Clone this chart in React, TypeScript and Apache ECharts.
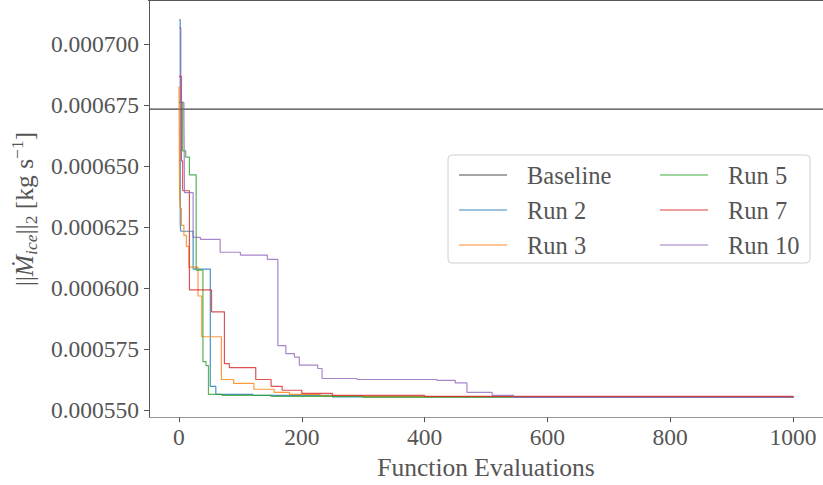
import React, { useEffect, useRef } from 'react';
import * as echarts from 'echarts';

// ---- data ----
const seriesNames = ['Run 2', 'Run 3', 'Run 5', 'Run 7', 'Run 10'];
const seriesColors = ['#1f77b4', '#ff7f0e', '#2ca02c', '#d62728', '#9467bd'];

const run2X = [0, 2, 3, 23, 51, 60, 120, 250, 1000];
const run2Y = [0.0007099, 0.0006257, 0.0006233, 0.0006078, 0.0005598, 0.0005565, 0.0005561, 0.0005555, 0.000555];

const run3X = [0, 1, 2, 4, 8, 12, 16, 31, 37, 69, 89, 122, 155, 180, 230, 300, 1000];
const run3Y = [0.0006826, 0.0006379, 0.0006327, 0.0006257, 0.0006216, 0.0006171, 0.0006086, 0.0005968, 0.0005801, 0.0005626, 0.000561, 0.0005586, 0.0005573, 0.0005565, 0.0005559, 0.0005556, 0.0005552];

const run5X = [0, 6, 11, 17, 28, 39, 44, 48, 70, 150, 300, 1000];
const run5Y = [0.0006761, 0.0006562, 0.0006537, 0.0006464, 0.0006074, 0.0005699, 0.0005683, 0.0005565, 0.0005561, 0.0005557, 0.0005554, 0.0005551];

const run7X = [0, 4, 6, 17, 53, 74, 82, 125, 150, 168, 200, 250, 400, 1000];
const run7Y = [0.0006867, 0.0006521, 0.0006399, 0.0005993, 0.0005903, 0.0005691, 0.0005675, 0.0005626, 0.0005598, 0.0005582, 0.0005569, 0.0005561, 0.0005557, 0.0005553];

const run10X = [0, 3, 8, 9, 23, 35, 67, 100, 144, 161, 174, 188, 196, 226, 233, 290, 420, 450, 469, 510, 545, 1000];
const run10Y = [0.0007066, 0.0006761, 0.0006712, 0.0006391, 0.0006208, 0.00062, 0.0006147, 0.0006135, 0.0006118, 0.0005765, 0.0005732, 0.0005718, 0.0005685, 0.0005671, 0.000563, 0.0005626, 0.0005622, 0.0005612, 0.0005573, 0.0005561, 0.0005553, 0.0005552];

const baselineValue = 0.0006733;

const xTicks = [0, 200, 400, 600, 800, 1000];
const yTicks = [0.00055, 0.000575, 0.0006, 0.000625, 0.00065, 0.000675, 0.0007];

const X_MIN = -48.8;
const X_MAX = 1048.8;
const Y_MIN = 0.0005472;
const Y_MAX = 0.0007176;

const runsX = [run2X, run3X, run5X, run7X, run10X];
const runsY = [run2Y, run3Y, run5Y, run7Y, run10Y];

const FONT = 'Liberation Serif, DejaVu Serif, serif';
const TEXT = '#555';
const FS = 23.5;
const NAME_FS = 25.5;

export default function App() {
  const ref = useRef<HTMLDivElement>(null);

  useEffect(() => {
    if (!ref.current) return;
    const chart = echarts.init(ref.current, undefined, { renderer: 'svg' });

    const runSeries = seriesNames.map((name, i) => ({
      name,
      type: 'line',
      step: 'end',
      showSymbol: false,
      silent: true,
      data: runsX[i].map((x, j) => [x, runsY[i][j]]),
      lineStyle: { color: seriesColors[i], width: 1.2, opacity: 0.8 },
      itemStyle: { color: seriesColors[i], opacity: 0.6 },
      z: 2 + i,
    }));

    const legendCommon = {
      orient: 'vertical',
      top: 162.5,
      padding: 0,
      itemWidth: 48,
      itemHeight: 1.5,
      itemGap: 10,
      icon: 'rect',
      selectedMode: false,
      textStyle: { fontFamily: FONT, fontSize: 24.5, color: TEXT, lineHeight: 23, padding: [0, 0, 0, 15] },
      z: 10,
    };

    const option: any = {
      animation: false,
      backgroundColor: '#fff',
      textStyle: { fontFamily: FONT },
      grid: { left: 148, right: 0, top: 1, bottom: 65, containLabel: false },
      xAxis: {
        type: 'value',
        min: X_MIN,
        max: X_MAX,
        name: 'Function Evaluations',
        nameLocation: 'middle',
        nameGap: 33,
        nameTextStyle: { fontFamily: FONT, fontSize: NAME_FS, color: TEXT },
        axisLine: { show: true, onZero: false, lineStyle: { color: '#999', width: 1 } },
        axisTick: { show: true, customValues: xTicks, length: 5, lineStyle: { color: '#555' } },
        axisLabel: {
          customValues: xTicks,
          fontFamily: FONT,
          fontSize: FS,
          color: TEXT,
          margin: 8,
          formatter: (v: number) => String(Math.round(v)),
        },
        splitLine: { show: false },
      },
      yAxis: {
        type: 'value',
        min: Y_MIN,
        max: Y_MAX,
        name: '{n|||}{m|Ṁ}{sub|ice}{n|||}{s2|2}{n| [kg s}{sup|−1}{n|]}',
        nameLocation: 'middle',
        nameGap: 102,
        nameRotate: 90,
        nameTextStyle: {
          fontFamily: FONT,
          fontSize: NAME_FS,
          color: TEXT,
          rich: {
            n: { fontFamily: FONT, fontSize: NAME_FS, color: TEXT, lineHeight: 32 },
            m: { fontFamily: FONT, fontSize: NAME_FS, color: TEXT, fontStyle: 'italic', lineHeight: 32 },
            sub: { fontFamily: FONT, fontSize: 17.5, color: TEXT, fontStyle: 'italic', verticalAlign: 'bottom' },
            s2: { fontFamily: FONT, fontSize: 17.5, color: TEXT, verticalAlign: 'bottom' },
            sup: { fontFamily: FONT, fontSize: 17.5, color: TEXT, verticalAlign: 'top' },
          },
        },
        axisLine: { show: true, onZero: false, lineStyle: { color: '#555', width: 1 } },
        axisTick: { show: true, customValues: yTicks, length: 5, lineStyle: { color: '#555' } },
        axisLabel: {
          customValues: yTicks,
          fontFamily: FONT,
          fontSize: FS,
          color: TEXT,
          margin: 10,
          formatter: (v: number) => v.toFixed(6),
        },
        splitLine: { show: false },
      },
      legend: [
        { ...legendCommon, left: 459, data: ['Baseline', 'Run 2', 'Run 3'] },
        { ...legendCommon, left: 660, data: ['Run 5', 'Run 7', 'Run 10'] },
      ],
      graphic: [
        {
          type: 'line',
          z: 5,
          shape: { x1: 148, y1: 0.5, x2: 823, y2: 0.5 },
          style: { stroke: '#555', lineWidth: 1 },
        },
        {
          type: 'rect',
          z: 8,
          shape: { x: 448, y: 155, width: 362, height: 108, r: 4 },
          style: { fill: 'rgba(255,255,255,0.85)', stroke: '#d0d0d0', lineWidth: 1 },
        },
      ],
      series: [
        {
          name: 'Baseline',
          type: 'line',
          showSymbol: false,
          silent: true,
          data: [[X_MIN, baselineValue], [X_MAX, baselineValue]],
          lineStyle: { color: '#444', width: 1.2 },
          itemStyle: { color: '#888' },
          z: 1,
        },
        ...runSeries,
      ],
    };

    chart.setOption(option);
    return () => chart.dispose();
  }, []);

  return (
    <div
      ref={ref}
      style={{ position: 'absolute', left: 0, top: 0, width: 823, height: 485 }}
    />
  );
}
